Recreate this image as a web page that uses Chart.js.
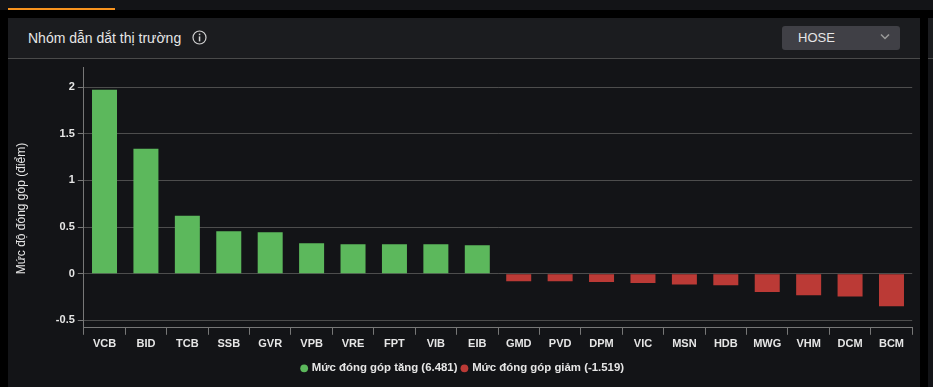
<!DOCTYPE html>
<html>
<head>
<meta charset="utf-8">
<script src="https://cdn.jsdelivr.net/npm/chart.js@4/dist/chart.umd.min.js"></script>
<style>
html,body{margin:0;padding:0;width:933px;height:387px;overflow:hidden;background:#000;font-family:"Liberation Sans",Arial,sans-serif}
#tabbar{position:absolute;left:0;top:0;width:933px;height:10px;background:#131417}
#tabline{position:absolute;left:8px;top:8px;width:107px;height:2px;background:#f7931e}
#panel{position:absolute;left:8px;top:18px;width:912px;height:369px;background:#131417}
#head{position:absolute;left:0;top:0;width:912px;height:40px;background:#1b1c1f;border-bottom:1px solid #4a4a4a}
#title{position:absolute;left:20px;top:11px;font-size:14px;line-height:18px;color:#e6e6e6}
#info{position:absolute;left:184px;top:12px;width:15px;height:15px}
#sel{position:absolute;left:774px;top:8px;width:118px;height:24px;background:#404046;border-radius:3px;color:#e6e6e6;font-size:13px;line-height:24px}
#sel span{position:absolute;left:16px}
#sel svg{position:absolute;left:98px;top:7px}
#right{position:absolute;left:928px;top:18px;width:5px;height:369px;background:#131417}
#righthead{position:absolute;left:0;top:0;width:5px;height:40px;background:#1b1c1f;border-bottom:1px solid #4a4a4a}
#wrap{position:absolute;left:0;top:0;width:933px;height:387px}
</style>
</head>
<body>
<div id="tabbar"></div><div id="tabline"></div>
<div id="panel">
  <div id="head">
    <div id="title">Nhóm dẫn dắt thị trường</div>
    <svg id="info" viewBox="0 0 15 15"><circle cx="7.5" cy="7.5" r="6.5" fill="none" stroke="#d0d0d0" stroke-width="1.2"/><rect x="6.8" y="6.4" width="1.5" height="5" fill="#d0d0d0"/><rect x="6.8" y="3.6" width="1.5" height="1.6" fill="#d0d0d0"/></svg>
    <div id="sel"><span>HOSE</span><svg width="10" height="8" viewBox="0 0 10 8"><path d="M1 1.5 L5 5.5 L9 1.5" fill="none" stroke="#9a9a9a" stroke-width="1.5"/></svg></div>
  </div>
</div>
<div id="right"><div id="righthead"></div></div>
<div id="wrap"><canvas id="c" width="933" height="387"></canvas></div>
<script>
const categories = ["VCB","BID","TCB","SSB","GVR","VPB","VRE","FPT","VIB","EIB","GMD","PVD","DPM","VIC","MSN","HDB","MWG","VHM","DCM","BCM"];
const increaseValues = [1.97,1.34,0.62,0.455,0.445,0.325,0.315,0.315,0.315,0.305,null,null,null,null,null,null,null,null,null,null];
const decreaseValues = [null,null,null,null,null,null,null,null,null,null,-0.08,-0.08,-0.09,-0.10,-0.115,-0.125,-0.195,-0.23,-0.245,-0.35];
const yTickValues = [-0.5,0,0.5,1,1.5,2];
const increaseLabel = "Mức đóng góp tăng (6.481)";
const decreaseLabel = "Mức đóng góp giảm (-1.519)";
const yTitle = "Mức độ đóng góp (điểm)";

const GREEN = "#5cb85c", RED = "#bb3a36", TXT = "#e6e6e6";
const family = '"Liberation Sans",Arial,sans-serif';
const font = {family,size:11,weight:"bold"};

const sideTitle = {
  id:"sideTitle",
  afterDraw(chart){
    const c = chart.ctx;
    c.save();
    c.translate(22,208.5);
    c.rotate(-Math.PI/2);
    c.font = "12px "+family;
    c.fillStyle = TXT;
    c.textAlign = "center";
    c.textBaseline = "middle";
    c.fillText(yTitle,0,0);
    c.restore();
  }
};

new Chart(document.getElementById("c"),{
  type:"bar",
  plugins:[sideTitle],
  data:{labels:categories,datasets:[
    {label:increaseLabel,data:increaseValues,backgroundColor:GREEN,borderWidth:0},
    {label:decreaseLabel,data:decreaseValues,backgroundColor:RED,borderWidth:0}
  ]},
  options:{
    responsive:false,animation:false,
    layout:{padding:{left:14,right:20.8,top:67,bottom:3}},
    datasets:{bar:{categoryPercentage:0.6036,barPercentage:1,grouped:false}},
    plugins:{
      tooltip:{enabled:false},
      legend:{position:"bottom",labels:{usePointStyle:true,pointStyle:"circle",boxWidth:4,boxHeight:5.5,padding:5,color:TXT,font:{family,size:11.4,weight:"bold"}}}
    },
    scales:{
      x:{stacked:true,offset:true,afterFit:a=>{a.height+=3.6;},
        grid:{drawOnChartArea:false,drawTicks:true,tickLength:7,color:"#777777",tickWidth:1},
        border:{display:true,color:"#777777",width:1},
        ticks:{color:TXT,font:font,padding:3,autoSkip:false,maxRotation:0}},
      y:{stacked:true,min:-0.58,max:2.215,afterFit:a=>{a.width=69.8;},
        afterBuildTicks:a=>{a.ticks=yTickValues.map(v=>({value:v}));},
        grid:{color:"#4d4d4d",lineWidth:1,tickLength:6,tickColor:"#777777"},
        border:{display:true,color:"#777777",width:1},
        ticks:{color:TXT,font:font,padding:3,callback:v=>String(v)}}
    }
  }
});
</script>
</body>
</html>
